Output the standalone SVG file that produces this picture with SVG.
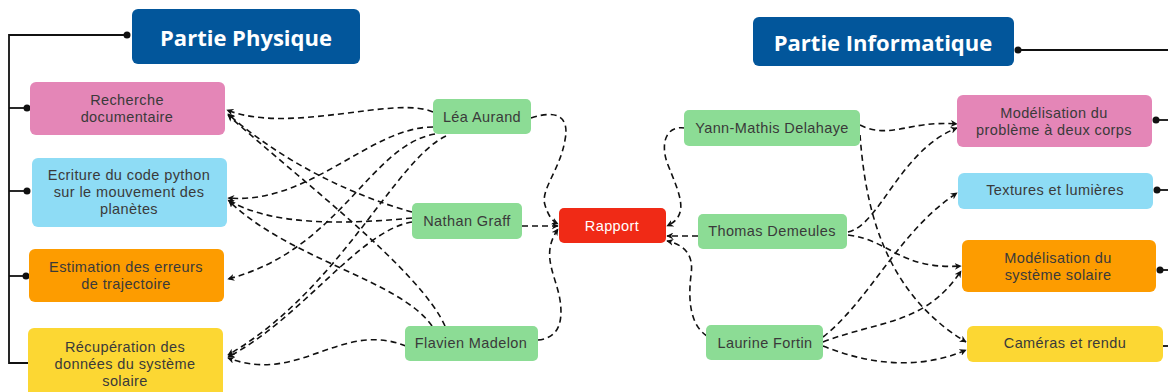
<svg xmlns="http://www.w3.org/2000/svg" width="1168" height="392" viewBox="0 0 1168 392">
<defs>
<style>
.t{font-family:"Liberation Sans",Arial,sans-serif;font-size:14.5px;letter-spacing:0.4px;fill:#3a3a3a;text-anchor:middle;dominant-baseline:central}
.h{font-family:"Open Sans","Liberation Sans",sans-serif;font-size:22px;font-weight:bold;fill:#fff;text-anchor:middle;dominant-baseline:central}
.w{font-family:"Liberation Sans",Arial,sans-serif;font-size:14.5px;letter-spacing:0.4px;fill:#fff;text-anchor:middle;dominant-baseline:central}
.d{fill:none;stroke:#111;stroke-width:1.6;stroke-dasharray:6 4;marker-end:url(#ah)}
.s{fill:none;stroke:#111;stroke-width:1.8}
.dot{fill:#111}
.blue{fill:#02569b}.pink{fill:#e486b7}.sky{fill:#8edcf5}.orange{fill:#fd9c00}.yellow{fill:#fcd733}.green{fill:#8cdc95}.red{fill:#f02a16}
</style>
<marker id="ah" viewBox="0 0 10 10" refX="9" refY="5" markerWidth="7" markerHeight="7" orient="auto-start-reverse" markerUnits="userSpaceOnUse">
<path d="M0,0 L10,5 L0,10 L3,5 z" fill="#111"/>
</marker>
</defs>

<g id="tree-lines">
<path class="s" d="M127,35 H9 V363 H28"/>
<path class="s" d="M9,108 H27"/>
<path class="s" d="M9,191 H26"/>
<path class="s" d="M9,276 H26"/>
<circle class="dot" cx="127" cy="35" r="3.5"/>
<circle class="dot" cx="27" cy="108" r="3.5"/>
<circle class="dot" cx="27" cy="191" r="3.5"/>
<circle class="dot" cx="26" cy="276" r="3.5"/>
<path class="s" d="M1018,50 H1168"/>
<path class="s" d="M1156,120 H1168"/>
<path class="s" d="M1157,190 H1168"/>
<path class="s" d="M1160,270 H1168"/>
<path class="s" d="M1163,346 H1168"/>
<circle class="dot" cx="1018" cy="50" r="3.5"/>
<circle class="dot" cx="1156" cy="120" r="3.5"/>
<circle class="dot" cx="1157" cy="190" r="3.5"/>
<circle class="dot" cx="1160" cy="270" r="3.5"/>
</g>

<g id="connectors">
<path class="d" d="M433,112 C395,95 290,135 227,110"/>
<path class="d" d="M433,127 C370,127 310,205 228,198"/>
<path class="d" d="M435,134 C370,145 340,250 228,279"/>
<path class="d" d="M446,136 C395,160 340,290 228,355"/>
<path class="d" d="M531,118 C555,110 570,115 565,140 C560,170 540,190 545,205 C548,215 552,221 558,224"/>
<path class="d" d="M412,212 C350,195 280,160 228,114"/>
<path class="d" d="M412,218 C340,225 270,225 228,200"/>
<path class="d" d="M412,222 C360,230 300,320 228,357"/>
<path class="d" d="M522,226 L558,226"/>
<path class="d" d="M445,326 C420,270 300,180 228,115"/>
<path class="d" d="M432,326 C400,280 290,260 229,201"/>
<path class="d" d="M406,346 C340,320 300,385 228,358"/>
<path class="d" d="M538,340 C560,338 563,320 560,300 C556,275 540,255 558,229"/>
<path class="d" d="M685,128 C665,125 660,145 668,165 C680,195 690,215 667,226"/>
<path class="d" d="M698,236 L667,236"/>
<path class="d" d="M707,336 C690,325 688,300 691,275 C694,255 685,245 667,241"/>
<path class="d" d="M860,125 C890,140 910,120 957,124"/>
<path class="d" d="M860,135 C865,200 880,290 966,342"/>
<path class="d" d="M848,232 C880,225 900,150 957,128"/>
<path class="d" d="M848,235 C890,240 900,270 961,266"/>
<path class="d" d="M823,337 C870,300 900,230 957,193"/>
<path class="d" d="M823,342 C880,320 925,325 961,271"/>
<path class="d" d="M823,346 C870,365 920,370 966,350"/>
</g>

<g id="partie-physique"><rect class="blue" x="132" y="9" width="228" height="55" rx="6"/><text class="h" x="246" y="37">Partie Physique</text></g>
<g id="recherche"><rect class="pink" x="30" y="82" width="195" height="53" rx="6"/><text class="t" x="127" y="100">Recherche</text><text class="t" x="127" y="117">documentaire</text></g>
<g id="ecriture"><rect class="sky" x="32" y="158" width="195" height="69" rx="6"/><text class="t" x="129" y="175">Ecriture du code python</text><text class="t" x="129" y="192">sur le mouvement des</text><text class="t" x="129" y="209">planètes</text></g>
<g id="estimation"><rect class="orange" x="29" y="249" width="195" height="53" rx="6"/><text class="t" x="126" y="267">Estimation des erreurs</text><text class="t" x="126" y="284">de trajectoire</text></g>
<g id="recuperation"><rect class="yellow" x="28" y="328" width="195" height="70" rx="6"/><text class="t" x="125" y="346.5">Récupération des</text><text class="t" x="125" y="363.5">données  du système</text><text class="t" x="125" y="380.5">solaire</text></g>

<g id="lea"><rect class="green" x="433" y="99" width="98" height="35" rx="5"/><text class="t" x="482" y="117">Léa Aurand</text></g>
<g id="nathan"><rect class="green" x="412" y="203" width="110" height="36" rx="5"/><text class="t" x="467" y="221">Nathan Graff</text></g>
<g id="flavien"><rect class="green" x="405" y="326" width="133" height="35" rx="5"/><text class="t" x="471" y="343">Flavien Madelon</text></g>
<g id="rapport"><rect class="red" x="559" y="208" width="107" height="35" rx="5"/><text class="w" x="612" y="226">Rapport</text></g>

<g id="partie-informatique"><rect class="blue" x="753" y="17" width="261" height="49" rx="6"/><text class="h" x="883" y="42">Partie Informatique</text></g>
<g id="yann"><rect class="green" x="684" y="110" width="176" height="36" rx="5"/><text class="t" x="772" y="128">Yann-Mathis Delahaye</text></g>
<g id="thomas"><rect class="green" x="698" y="214" width="149" height="35" rx="5"/><text class="t" x="772" y="231">Thomas Demeules</text></g>
<g id="laurine"><rect class="green" x="706" y="325" width="117" height="35" rx="5"/><text class="t" x="765" y="343">Laurine Fortin</text></g>
<g id="modelisation-probleme"><rect class="pink" x="957" y="95" width="195" height="52" rx="6"/><text class="t" x="1054" y="113">Modélisation du</text><text class="t" x="1054" y="130">problème à deux corps</text></g>
<g id="textures"><rect class="sky" x="958" y="173" width="195" height="36" rx="6"/><text class="t" x="1055" y="190">Textures et lumières</text></g>
<g id="modelisation-systeme"><rect class="orange" x="962" y="240" width="194" height="52" rx="6"/><text class="t" x="1058" y="257.5">Modélisation du</text><text class="t" x="1058" y="274.5">système solaire</text></g>
<g id="cameras"><rect class="yellow" x="967" y="326" width="196" height="36" rx="6"/><text class="t" x="1065" y="343">Caméras et rendu</text></g>
</svg>
